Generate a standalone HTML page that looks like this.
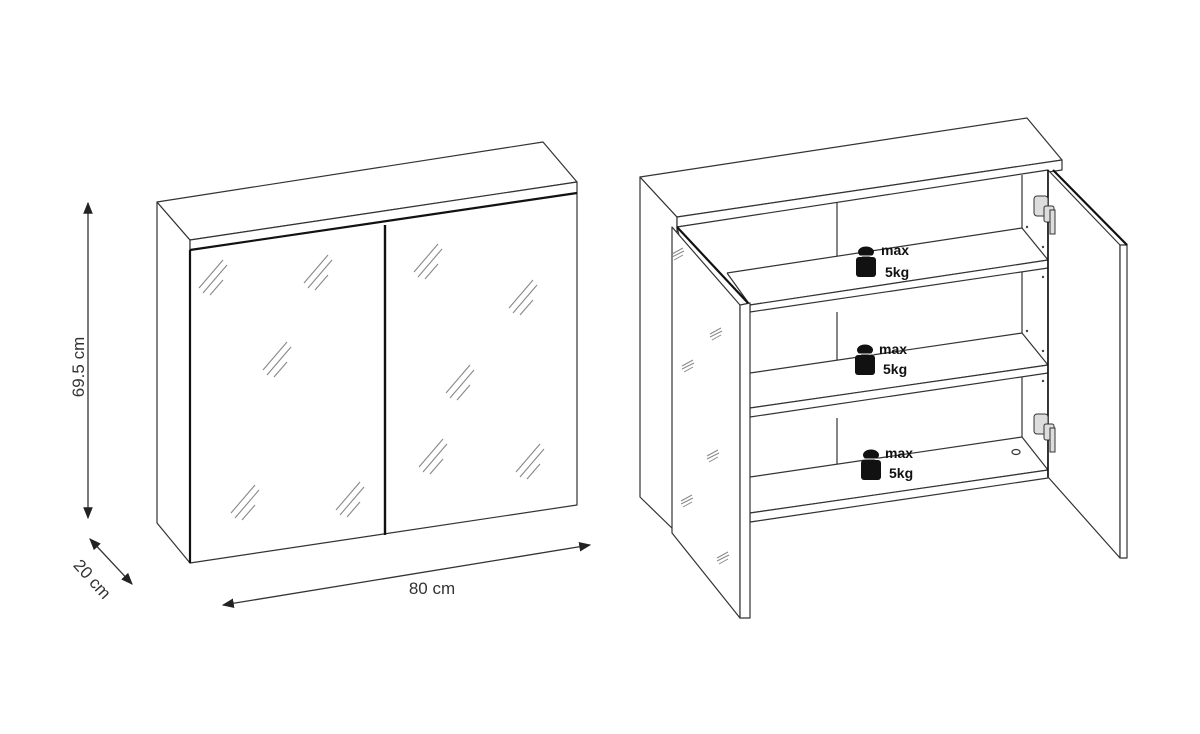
<!DOCTYPE html>
<html><head><meta charset="utf-8"><style>
html,body{margin:0;padding:0;background:#fff}
svg{display:block}
text{font-family:"Liberation Sans",sans-serif}
</style></head><body>
<svg width="1200" height="734" viewBox="0 0 1200 734" xmlns="http://www.w3.org/2000/svg">
<defs>
<marker id="ah" viewBox="0 0 10 10" refX="9" refY="5" markerWidth="12" markerHeight="12" orient="auto-start-reverse" markerUnits="userSpaceOnUse">
<path d="M0,1 L10,5 L0,9 Z" fill="#222"/></marker>
<g id="h" stroke="#888" stroke-width="1.1" fill="none">
<line x1="-16" y1="8" x2="8" y2="-20"/><line x1="-12" y1="13" x2="12" y2="-15"/><line x1="-5" y1="15" x2="8" y2="0"/>
</g>
<g id="hs" stroke="#888" stroke-width="1" fill="none">
<line x1="-6" y1="1" x2="5" y2="-5"/><line x1="-6" y1="4" x2="6" y2="-2"/><line x1="-4" y1="7" x2="5" y2="2"/>
</g>
<g id="wt">
<ellipse cx="0" cy="-8" rx="8" ry="5.5" fill="#111"/>
<rect x="-10" y="-3" width="20" height="20" rx="3" fill="#111"/>
<line x1="-9" y1="-4" x2="9" y2="-4" stroke="#fff" stroke-width="1"/>
</g>
</defs>
<g stroke="#333" stroke-width="1.2" fill="#fff" stroke-linejoin="round">
<polygon points="157,202 190,240 190,563 157,523"/>
<polygon points="157,202 543,142 577,182 190,240"/>
<polygon points="190,240 577,182 577,193 190,250"/>
<polygon points="190,250 577,193 577,505 190,563"/>
<line x1="190" y1="250" x2="577" y2="193" stroke="#111" stroke-width="2.2"/>
<line x1="190" y1="250" x2="190" y2="563" stroke="#111" stroke-width="2.2"/>
<line x1="385" y1="225" x2="385" y2="535" stroke="#111" stroke-width="2.4"/>
</g>
<use href="#h" x="215" y="280"/><use href="#h" x="320" y="275"/><use href="#h" x="279" y="362"/>
<use href="#h" x="247" y="505"/><use href="#h" x="352" y="502"/><use href="#h" x="430" y="264"/>
<use href="#h" x="525" y="300"/><use href="#h" x="462" y="385"/><use href="#h" x="435" y="459"/><use href="#h" x="532" y="464"/>

<g stroke="#333" stroke-width="1.3">
<line x1="88" y1="203" x2="88" y2="518" marker-start="url(#ah)" marker-end="url(#ah)"/>
<line x1="90" y1="539" x2="132" y2="584" marker-start="url(#ah)" marker-end="url(#ah)"/>
<line x1="223" y1="605" x2="590" y2="545" marker-start="url(#ah)" marker-end="url(#ah)"/>
</g>
<text x="0" y="0" font-size="17" fill="#333" text-anchor="middle" transform="translate(84,367) rotate(-90)">69.5 cm</text>
<text x="0" y="0" font-size="17" fill="#333" text-anchor="middle" transform="translate(88,583) rotate(48)">20 cm</text>
<text x="432" y="594" font-size="17" fill="#333" text-anchor="middle">80 cm</text>

<g stroke="#333" stroke-width="1.2" fill="#fff" stroke-linejoin="round">
<polygon points="640,177 677,217 677,533 640,497"/>
<polygon points="640,177 1027,118 1062,160 677,217"/>
<polygon points="677,217 1062,160 1062,170 677,227"/>
<polygon points="677,227 1048,170 1048,477 750,522" fill="#fff"/>
<line x1="1022" y1="175" x2="1022" y2="460"/>
<line x1="837" y1="203" x2="837" y2="273" />
<line x1="837" y1="312" x2="837" y2="360"/>
<line x1="837" y1="418" x2="837" y2="465"/>
<polyline points="727,273 1022,228 1048,260 750,305 727,273" fill="#fff"/>
<polygon points="750,305 1048,260 1048,268 750,312"/>
<polyline points="750,373 1022,333 1048,365 750,408" fill="#fff"/>
<polygon points="750,408 1048,365 1048,373 750,417"/>
<polyline points="750,477 1022,437 1048,470 750,513" fill="#fff"/>
<polygon points="750,513 1048,470 1048,478 750,522"/>
<ellipse cx="1016" cy="452" rx="4" ry="2.5" fill="none"/>
<polygon points="672,227 740,305 740,618 672,533"/>
<polygon points="740,305 750,303 750,618 740,618"/>
<line x1="677" y1="227" x2="748" y2="303" stroke="#111" stroke-width="2.2"/>
<polygon points="1048,170 1120,245 1120,558 1048,477"/>
<polygon points="1120,245 1127,245 1127,558 1120,558"/>
<line x1="1053" y1="170" x2="1127" y2="245" stroke="#111" stroke-width="2.2"/>
<line x1="1048" y1="170" x2="1048" y2="477" stroke="#111" stroke-width="1.6"/>
</g>
<use href="#hs" x="678" y="253"/><use href="#hs" x="716" y="333"/><use href="#hs" x="688" y="365"/>
<use href="#hs" x="713" y="455"/><use href="#hs" x="687" y="500"/><use href="#hs" x="723" y="557"/>
<g stroke="#333" stroke-width="1" fill="#ddd">
<rect x="1034" y="196" width="14" height="20" rx="3"/><rect x="1044" y="206" width="10" height="16" rx="2"/><rect x="1050" y="210" width="5" height="24"/>
<rect x="1034" y="414" width="14" height="20" rx="3"/><rect x="1044" y="424" width="10" height="16" rx="2"/><rect x="1050" y="428" width="5" height="24"/>
</g>
<g fill="#444"><circle cx="1027" cy="227" r="1.2"/><circle cx="1043" cy="247" r="1.2"/><circle cx="1043" cy="277" r="1.2"/><circle cx="1027" cy="331" r="1.2"/><circle cx="1043" cy="351" r="1.2"/><circle cx="1043" cy="381" r="1.2"/></g>
<use href="#wt" x="866" y="260"/><use href="#wt" x="865" y="358"/><use href="#wt" x="871" y="463"/>
<g font-size="14" font-weight="bold" fill="#111">
<text x="881" y="255">max</text><text x="885" y="277">5kg</text>
<text x="879" y="354">max</text><text x="883" y="374">5kg</text>
<text x="885" y="458">max</text><text x="889" y="478">5kg</text>
</g>
</svg>
</body></html>
